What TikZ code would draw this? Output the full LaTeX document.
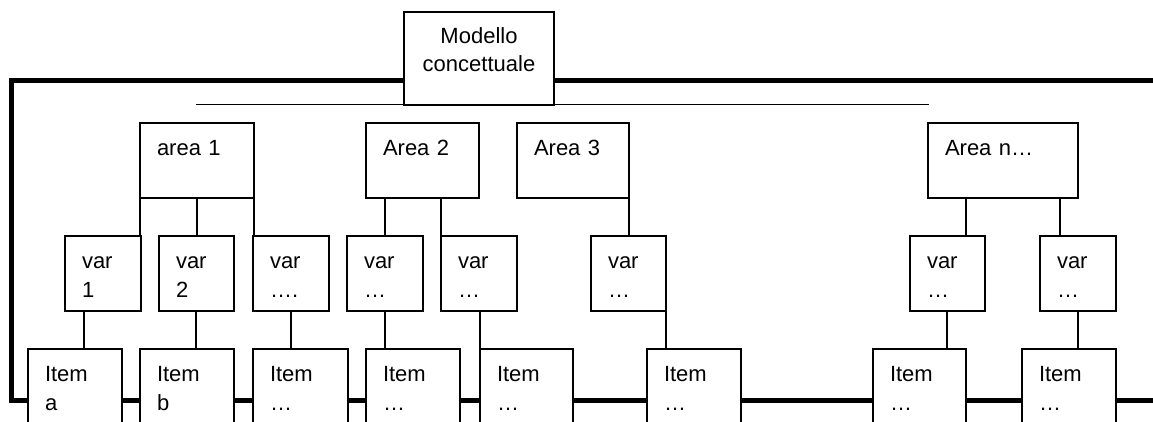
\documentclass[tikz,border=0pt]{standalone}
\usepackage{fontspec}
\setmainfont{Liberation Sans}
\begin{document}
\begin{tikzpicture}[x=1pt,y=-1pt,
  box/.style={draw, fill=white, line width=1.2pt, inner xsep=17pt, inner ysep=0pt,
    outer sep=0pt, anchor=north west, text width=#1, align=left,
    text height=32pt, text depth=43pt, font=\fontsize{22}{29}\selectfont},
  topbox/.style={draw, fill=white, line width=1.2pt, inner sep=0pt, outer sep=0pt,
    anchor=north west, text width=150pt, align=center,
    text height=31pt, text depth=62pt, font=\fontsize{22}{28}\selectfont},
  thick frame/.style={line width=5pt, line join=miter},
  link/.style={line width=1.2pt}]
\useasboundingbox (0,0) rectangle (1153,421);
\clip (0,0) rectangle (1153,421);
\fill[white] (0,0) rectangle (1153,421);

% thick frame and thin line behind the boxes
\draw[thick frame] (1165,80) -- (11,80) -- (11,400) -- (1165,400);
\draw[line width=1pt] (196,104) -- (929,104);

% boxes
\node[topbox] (m) at (404,12) {Modello\\concettuale};

\node[box=80pt] (a1) at (140,123) {area 1};
\node[box=79pt] (a2) at (366,123) {Area 2};
\node[box=78pt] (a3) at (517,123) {Area 3};
\node[box=116pt] (an) at (928,123) {Area n…};

\node[box=42pt] (v1) at (65,236) {var\\1};
\node[box=41pt] (v2) at (159,236) {var\\2};
\node[box=42pt] (v3) at (253,236) {var\\….};
\node[box=42pt] (v4) at (347,236) {var\\…};
\node[box=42pt] (v5) at (441,236) {var\\…};
\node[box=41pt] (v6) at (591,236) {var\\…};
\node[box=41pt] (v7) at (910,236) {var\\…};
\node[box=42pt] (v8) at (1040,236) {var\\…};

\node[box=60pt] (i1) at (28,349) {Item\\a};
\node[box=60pt] (i2) at (140,349) {Item\\b};
\node[box=61pt] (i3) at (253,349) {Item\\…};
\node[box=60pt] (i4) at (366,349) {Item\\…};
\node[box=59pt] (i5) at (480,349) {Item\\…};
\node[box=60pt] (i6) at (647,349) {Item\\…};
\node[box=59pt] (i7) at (873,349) {Item\\…};
\node[box=60pt] (i8) at (1022,349) {Item\\…};

% x positions of the connectors
\coordinate (k1) at (140,0);
\coordinate (k2) at (197,0);
\coordinate (k3) at (254,0);
\coordinate (k4) at (385,0);
\coordinate (k5) at (441,0);
\coordinate (k6) at (629,0);
\coordinate (k7) at (966,0);
\coordinate (k8) at (1060,0);
\coordinate (l1) at (84,0);
\coordinate (l2) at (196,0);
\coordinate (l3) at (291,0);
\coordinate (l4) at (385,0);
\coordinate (l5) at (480,0);
\coordinate (l6) at (666,0);
\coordinate (l7) at (947,0);
\coordinate (l8) at (1078,0);

% area -> var
\draw[link] (a1.south -| k1) -- (v1.north -| k1);
\draw[link] (a1.south -| k2) -- (v2.north -| k2);
\draw[link] (a1.south -| k3) -- (v3.north -| k3);
\draw[link] (a2.south -| k4) -- (v4.north -| k4);
\draw[link] (a2.south -| k5) -- (v5.north -| k5);
\draw[link] (a3.south -| k6) -- (v6.north -| k6);
\draw[link] (an.south -| k7) -- (v7.north -| k7);
\draw[link] (an.south -| k8) -- (v8.north -| k8);

% var -> item
\draw[link] (v1.south -| l1) -- (i1.north -| l1);
\draw[link] (v2.south -| l2) -- (i2.north -| l2);
\draw[link] (v3.south -| l3) -- (i3.north -| l3);
\draw[link] (v4.south -| l4) -- (i4.north -| l4);
\draw[link] (v5.south -| l5) -- (i5.north -| l5);
\draw[link] (v6.south -| l6) -- (i6.north -| l6);
\draw[link] (v7.south -| l7) -- (i7.north -| l7);
\draw[link] (v8.south -| l8) -- (i8.north -| l8);
\end{tikzpicture}
\end{document}
